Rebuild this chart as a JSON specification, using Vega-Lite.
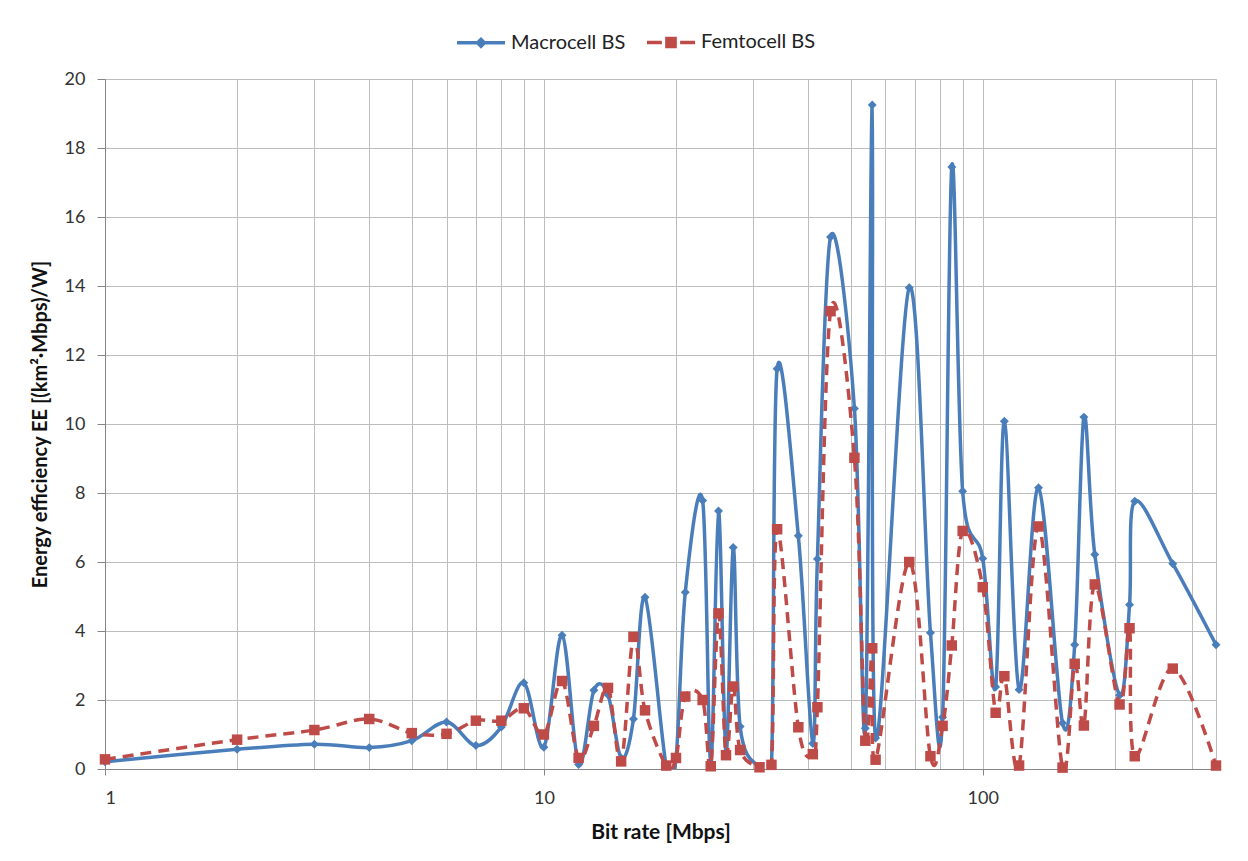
{
  "$schema": "https://vega.github.io/schema/vega-lite/v6.json",
  "width": 1111,
  "height": 690,
  "autosize": "none",
  "padding": {"left": 105, "top": 79, "right": 32, "bottom": 92},
  "background": "white",
  "config": {
    "font": "Lato",
    "view": {"stroke": "#BDBDBD", "strokeWidth": 1},
    "axis": {
      "domainColor": "#868686",
      "tickColor": "#868686",
      "gridColor": "#BDBDBD",
      "gridWidth": 1,
      "labelFont": "Lato",
      "labelFontSize": 18,
      "labelColor": "#333333",
      "titleFont": "Lato",
      "titleFontWeight": "bold",
      "titleColor": "#111111"
    }
  },
  "data": {
    "values": [
      {"rate": 1, "series": "Macrocell BS", "ee": 0.21},
      {"rate": 2, "series": "Macrocell BS", "ee": 0.57},
      {"rate": 3, "series": "Macrocell BS", "ee": 0.72},
      {"rate": 4, "series": "Macrocell BS", "ee": 0.62},
      {"rate": 5, "series": "Macrocell BS", "ee": 0.82},
      {"rate": 6, "series": "Macrocell BS", "ee": 1.36},
      {"rate": 7, "series": "Macrocell BS", "ee": 0.68},
      {"rate": 8, "series": "Macrocell BS", "ee": 1.22},
      {"rate": 9, "series": "Macrocell BS", "ee": 2.5},
      {"rate": 10, "series": "Macrocell BS", "ee": 0.63},
      {"rate": 11, "series": "Macrocell BS", "ee": 3.88},
      {"rate": 12, "series": "Macrocell BS", "ee": 0.13},
      {"rate": 13, "series": "Macrocell BS", "ee": 2.28},
      {"rate": 14, "series": "Macrocell BS", "ee": 2.15},
      {"rate": 15, "series": "Macrocell BS", "ee": 0.32},
      {"rate": 16, "series": "Macrocell BS", "ee": 1.45},
      {"rate": 17, "series": "Macrocell BS", "ee": 4.98},
      {"rate": 19, "series": "Macrocell BS", "ee": 0.08},
      {"rate": 20, "series": "Macrocell BS", "ee": 0.3},
      {"rate": 21, "series": "Macrocell BS", "ee": 5.12},
      {"rate": 23, "series": "Macrocell BS", "ee": 7.78},
      {"rate": 24, "series": "Macrocell BS", "ee": 0.12},
      {"rate": 25, "series": "Macrocell BS", "ee": 7.48},
      {"rate": 26, "series": "Macrocell BS", "ee": 0.45},
      {"rate": 27, "series": "Macrocell BS", "ee": 6.42},
      {"rate": 28, "series": "Macrocell BS", "ee": 1.23},
      {"rate": 31, "series": "Macrocell BS", "ee": 0.05},
      {"rate": 33, "series": "Macrocell BS", "ee": 0.1},
      {"rate": 34, "series": "Macrocell BS", "ee": 11.6},
      {"rate": 38, "series": "Macrocell BS", "ee": 6.76},
      {"rate": 41, "series": "Macrocell BS", "ee": 0.74},
      {"rate": 42, "series": "Macrocell BS", "ee": 6.09},
      {"rate": 45, "series": "Macrocell BS", "ee": 15.42},
      {"rate": 51, "series": "Macrocell BS", "ee": 10.45},
      {"rate": 54, "series": "Macrocell BS", "ee": 1.18},
      {"rate": 56, "series": "Macrocell BS", "ee": 19.25},
      {"rate": 57, "series": "Macrocell BS", "ee": 0.9},
      {"rate": 68, "series": "Macrocell BS", "ee": 13.95},
      {"rate": 76, "series": "Macrocell BS", "ee": 3.95},
      {"rate": 81, "series": "Macrocell BS", "ee": 1.5},
      {"rate": 85, "series": "Macrocell BS", "ee": 17.45},
      {"rate": 90, "series": "Macrocell BS", "ee": 8.05},
      {"rate": 100, "series": "Macrocell BS", "ee": 6.1},
      {"rate": 107, "series": "Macrocell BS", "ee": 2.38},
      {"rate": 112, "series": "Macrocell BS", "ee": 10.08},
      {"rate": 121, "series": "Macrocell BS", "ee": 2.3},
      {"rate": 134, "series": "Macrocell BS", "ee": 8.15},
      {"rate": 152, "series": "Macrocell BS", "ee": 1.33},
      {"rate": 162, "series": "Macrocell BS", "ee": 3.6},
      {"rate": 170, "series": "Macrocell BS", "ee": 10.2},
      {"rate": 180, "series": "Macrocell BS", "ee": 6.22},
      {"rate": 205, "series": "Macrocell BS", "ee": 2.14},
      {"rate": 216, "series": "Macrocell BS", "ee": 4.76},
      {"rate": 222, "series": "Macrocell BS", "ee": 7.76},
      {"rate": 271, "series": "Macrocell BS", "ee": 5.95},
      {"rate": 340, "series": "Macrocell BS", "ee": 3.6},
      {"rate": 1, "series": "Femtocell BS", "ee": 0.28},
      {"rate": 2, "series": "Femtocell BS", "ee": 0.85},
      {"rate": 3, "series": "Femtocell BS", "ee": 1.13},
      {"rate": 4, "series": "Femtocell BS", "ee": 1.45},
      {"rate": 5, "series": "Femtocell BS", "ee": 1.04},
      {"rate": 6, "series": "Femtocell BS", "ee": 1.02},
      {"rate": 7, "series": "Femtocell BS", "ee": 1.4},
      {"rate": 8, "series": "Femtocell BS", "ee": 1.4},
      {"rate": 9, "series": "Femtocell BS", "ee": 1.76},
      {"rate": 10, "series": "Femtocell BS", "ee": 1.0},
      {"rate": 11, "series": "Femtocell BS", "ee": 2.55},
      {"rate": 12, "series": "Femtocell BS", "ee": 0.32},
      {"rate": 13, "series": "Femtocell BS", "ee": 1.25},
      {"rate": 14, "series": "Femtocell BS", "ee": 2.35},
      {"rate": 15, "series": "Femtocell BS", "ee": 0.22},
      {"rate": 16, "series": "Femtocell BS", "ee": 3.83},
      {"rate": 17, "series": "Femtocell BS", "ee": 1.7},
      {"rate": 19, "series": "Femtocell BS", "ee": 0.1},
      {"rate": 20, "series": "Femtocell BS", "ee": 0.32},
      {"rate": 21, "series": "Femtocell BS", "ee": 2.1},
      {"rate": 23, "series": "Femtocell BS", "ee": 2.0},
      {"rate": 24, "series": "Femtocell BS", "ee": 0.08},
      {"rate": 25, "series": "Femtocell BS", "ee": 4.51},
      {"rate": 26, "series": "Femtocell BS", "ee": 0.4},
      {"rate": 27, "series": "Femtocell BS", "ee": 2.39},
      {"rate": 28, "series": "Femtocell BS", "ee": 0.55},
      {"rate": 31, "series": "Femtocell BS", "ee": 0.05},
      {"rate": 33, "series": "Femtocell BS", "ee": 0.12},
      {"rate": 34, "series": "Femtocell BS", "ee": 6.95},
      {"rate": 38, "series": "Femtocell BS", "ee": 1.21},
      {"rate": 41, "series": "Femtocell BS", "ee": 0.43},
      {"rate": 42, "series": "Femtocell BS", "ee": 1.79},
      {"rate": 45, "series": "Femtocell BS", "ee": 13.27},
      {"rate": 51, "series": "Femtocell BS", "ee": 9.02},
      {"rate": 54, "series": "Femtocell BS", "ee": 0.82},
      {"rate": 56, "series": "Femtocell BS", "ee": 3.5},
      {"rate": 57, "series": "Femtocell BS", "ee": 0.27},
      {"rate": 68, "series": "Femtocell BS", "ee": 6.0},
      {"rate": 76, "series": "Femtocell BS", "ee": 0.37},
      {"rate": 81, "series": "Femtocell BS", "ee": 1.25},
      {"rate": 85, "series": "Femtocell BS", "ee": 3.58},
      {"rate": 90, "series": "Femtocell BS", "ee": 6.9},
      {"rate": 100, "series": "Femtocell BS", "ee": 5.27},
      {"rate": 107, "series": "Femtocell BS", "ee": 1.63},
      {"rate": 112, "series": "Femtocell BS", "ee": 2.69},
      {"rate": 121, "series": "Femtocell BS", "ee": 0.1},
      {"rate": 134, "series": "Femtocell BS", "ee": 7.03},
      {"rate": 152, "series": "Femtocell BS", "ee": 0.04},
      {"rate": 162, "series": "Femtocell BS", "ee": 3.05},
      {"rate": 170, "series": "Femtocell BS", "ee": 1.26},
      {"rate": 180, "series": "Femtocell BS", "ee": 5.35},
      {"rate": 205, "series": "Femtocell BS", "ee": 1.87},
      {"rate": 216, "series": "Femtocell BS", "ee": 4.08},
      {"rate": 222, "series": "Femtocell BS", "ee": 0.37},
      {"rate": 271, "series": "Femtocell BS", "ee": 2.91},
      {"rate": 340, "series": "Femtocell BS", "ee": 0.1}
    ]
  },
  "encoding": {
    "x": {
      "field": "rate",
      "type": "quantitative",
      "scale": {"type": "log", "domain": [1, 340], "nice": false},
      "axis": {
        "title": "Bit rate [Mbps]",
        "titleFontSize": 21,
        "values": [1, 2, 3, 4, 5, 6, 7, 8, 9, 10, 20, 30, 40, 50, 60, 70, 80, 90, 100, 200, 300],
        "format": "d",
        "labelExpr": "datum.value == 1 || datum.value == 10 || datum.value == 100 ? datum.label : ''",
        "labelOverlap": false,
        "tickSize": 6,
        "tickColor": {"condition": {"test": "datum.value == 1 || datum.value == 10 || datum.value == 100", "value": "#868686"}, "value": "transparent"},
        "labelPadding": 14,
        "titlePadding": 14
      }
    },
    "y": {
      "field": "ee",
      "type": "quantitative",
      "scale": {"domain": [0, 20], "nice": false},
      "axis": {
        "title": "Energy efficiency EE [(km²·Mbps)/W]",
        "titleFontSize": 20,
        "values": [0, 2, 4, 6, 8, 10, 12, 14, 16, 18, 20],
        "tickSize": 8,
        "labelPadding": 12,
        "titlePadding": 14
      }
    }
  },
  "layer": [
    {
      "transform": [{"filter": "datum.series === 'Macrocell BS'"}],
      "mark": {"type": "line", "interpolate": "cardinal", "strokeWidth": 3.5, "clip": true},
      "encoding": {
        "color": {
          "field": "series",
          "type": "nominal",
          "scale": {"domain": ["Macrocell BS", "Femtocell BS"], "range": ["#4A7EBB", "#BE4B48"]},
          "legend": {
            "title": null,
            "orient": "none",
            "direction": "horizontal",
            "legendX": 350,
            "legendY": -63,
            "padding": 0,
            "symbolType": "M-1,0H1",
            "symbolSize": 2304,
            "symbolStrokeWidth": 3.5,
            "labelFont": "Lato",
            "labelFontSize": 20,
            "labelColor": "#222222",
            "labelOffset": 4,
            "columnPadding": 14,
            "encode": {
              "symbols": {
                "update": {
                  "shape": {"signal": "datum.value === 'Femtocell BS' ? 'M-1,0H-0.38M0.38,0H1M-0.17,-0.17H0.17V0.17H-0.17Z' : 'M-1,0H1M0,-0.14L0.14,0L0,0.14L-0.14,0Z'"},
                  "fill": {"scale": "color", "field": "value"},
                  "stroke": {"scale": "color", "field": "value"},
                  "strokeDash": {"value": []},
                  "opacity": {"value": 1}
                }
              }
            }
          }
        }
      }
    },
    {
      "transform": [{"filter": "datum.series === 'Macrocell BS'"}],
      "mark": {"type": "point", "shape": "diamond", "filled": true, "opacity": 1, "size": 80, "color": "#4A7EBB"}
    },
    {
      "transform": [{"filter": "datum.series === 'Femtocell BS'"}],
      "mark": {"type": "line", "interpolate": "cardinal", "strokeWidth": 3.5, "strokeDash": [11, 7], "clip": true},
      "encoding": {
        "color": {"field": "series", "type": "nominal"}
      }
    },
    {
      "transform": [{"filter": "datum.series === 'Femtocell BS'"}],
      "mark": {"type": "point", "shape": "square", "filled": true, "opacity": 1, "size": 110, "color": "#BE4B48"}
    }
  ]
}
